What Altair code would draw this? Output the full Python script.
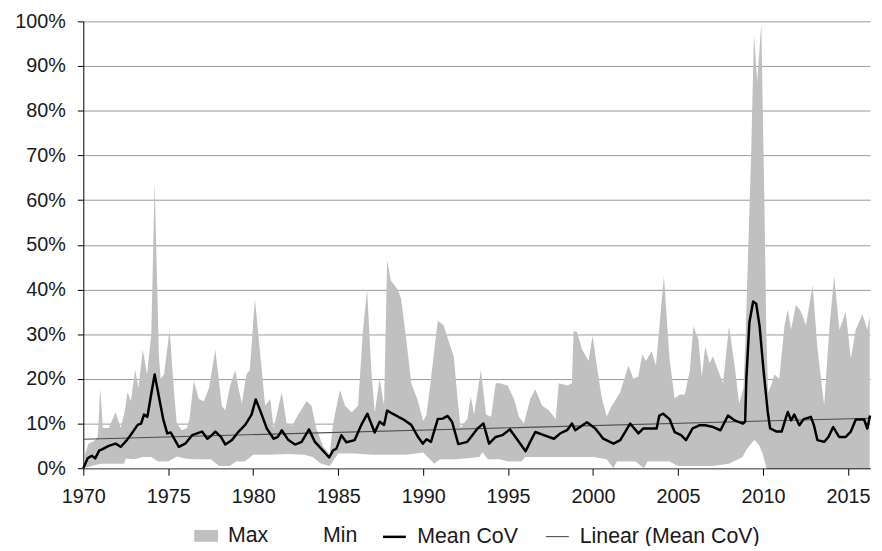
import altair as alt
import pandas as pd

# ---- data ----
max_years = [1970.0, 1970.1, 1970.3, 1970.6, 1970.85, 1971.0, 1971.15, 1971.5, 1971.9, 1972.2,
             1972.45, 1972.6, 1972.8, 1973.05, 1973.25, 1973.5, 1973.75, 1974.0, 1974.2, 1974.45,
             1974.55, 1974.75, 1975.08, 1975.33, 1975.5, 1975.8, 1976.1, 1976.25, 1976.5, 1976.8,
             1977.1, 1977.4, 1977.77, 1978.15, 1978.35, 1978.65, 1978.94, 1979.13, 1979.33, 1979.6,
             1979.8, 1980.1, 1980.4, 1980.7, 1981.0, 1981.2, 1981.68, 1981.97, 1982.3, 1982.65,
             1983.14, 1983.43, 1983.7, 1984.1, 1984.5, 1984.7, 1985.1, 1985.4, 1985.8, 1986.17,
             1986.46, 1986.7, 1986.95, 1987.15, 1987.44, 1987.7, 1987.88, 1988.1, 1988.5, 1988.7,
             1989.0, 1989.3, 1989.7, 1990.0, 1990.2, 1990.46, 1990.86, 1991.2, 1991.54, 1991.8,
             1992.03, 1992.2, 1992.6, 1992.8, 1993.0, 1993.4, 1993.7, 1994.0, 1994.27, 1994.5,
             1994.96, 1995.35, 1995.64, 1995.93, 1996.3, 1996.6, 1997.0, 1997.4, 1997.8, 1997.98,
             1998.5, 1998.75, 1998.86, 1999.05, 1999.35, 1999.74, 1999.97, 2000.2, 2000.5, 2000.8,
             2001.1, 2001.6, 2002.08, 2002.37, 2002.66, 2002.9, 2003.1, 2003.45, 2003.7, 2004.17,
             2004.5, 2004.8, 2005.1, 2005.4, 2005.7, 2005.9, 2006.19, 2006.4, 2006.6, 2006.85,
             2007.05, 2007.35, 2007.65, 2008.0, 2008.33, 2008.6, 2008.85, 2008.98, 2009.1, 2009.3,
             2009.47, 2009.66, 2009.9, 2010.08, 2010.2, 2010.3, 2010.48, 2010.67, 2010.96, 2011.26,
             2011.46, 2011.65, 2011.94, 2012.24, 2012.53, 2012.92, 2013.2, 2013.6, 2013.9, 2014.19,
             2014.5, 2014.87, 2015.17, 2015.46, 2015.85, 2016.14, 2016.28]
max_vals = [0, 3, 5.5, 6, 7, 18, 9, 9, 12.5, 9,
            13, 17, 15, 22, 18, 26.5, 21, 30, 64, 25,
            20, 21, 31, 17.5, 10, 8.5, 9, 11, 19.5, 15.5,
            15, 18, 26.5, 14, 13, 18.5, 22, 18, 14.5, 21,
            22, 38, 26, 14, 15.5, 9, 17, 10, 9.5, 12,
            15, 14, 9, 5, 3, 10, 17.5, 14, 12.5, 14,
            31, 40, 22, 12.5, 20, 14, 46.5, 42, 40, 38,
            29, 19, 15, 10.5, 12, 20, 33, 32, 28, 25,
            15.5, 9, 11, 16, 12, 22, 12, 11.5, 19, 19,
            18.5, 15.5, 11.5, 10, 15.5, 17.7, 14, 13, 11, 19,
            18.5, 19, 30.7, 30.5, 26.6, 24, 29.7, 23.5, 16, 11.5,
            14, 17, 23, 20, 20.5, 25.5, 24, 26.2, 23, 43,
            24.5, 15.6, 16.5, 16.5, 22, 31.8, 29, 20.5, 27.3, 23.5,
            25, 22, 19, 31.8, 23, 14.5, 18, 30, 45, 70,
            97, 86.5, 99.4, 60, 30, 17, 18.5, 21, 20, 31.8,
            35.5, 31, 36.6, 35, 32, 41, 27, 14, 31, 43,
            31, 35, 24.5, 31, 34.4, 31, 34]

min_years = [1970.0, 1970.5, 1971.0, 1972.0, 1972.4, 1972.5, 1973.0, 1973.5, 1974.0, 1974.4,
             1975.0, 1975.5, 1976.0, 1976.5, 1977.5, 1978.0, 1978.6, 1979.0, 1979.5, 1980.0,
             1981.0, 1982.0, 1983.0, 1983.5, 1984.0, 1984.5, 1985.0, 1986.0, 1987.0, 1988.0,
             1989.0, 1990.0, 1990.66, 1991.0, 1992.0, 1993.3, 1993.5, 1993.8, 1994.5, 1995.0,
             1995.8, 1996.0, 1998.0, 2000.0, 2000.8, 2001.2, 2001.4, 2002.5, 2003.0, 2003.2,
             2004.5, 2005.0, 2006.0, 2007.0, 2008.0, 2008.8, 2009.0, 2009.3, 2009.5, 2009.8,
             2010.0, 2010.2, 2016.3]
min_vals = [0, 0.5, 1, 1, 1, 2.2, 2, 2.5, 2.5, 1.5,
            1.5, 2.6, 2.2, 2, 2, 0.5, 0.5, 1.5, 1.5, 3,
            3, 3.2, 3, 2.5, 1, 0.5, 3.3, 3.3, 3, 3,
            3, 3.5, 1, 2, 2, 2.5, 3.6, 2, 2, 1.5,
            1.5, 2.5, 2.5, 2.5, 2, 0, 1.5, 1.5, 0, 1.5,
            1.5, 0.5, 0.5, 0.5, 1, 2.5, 4, 5.5, 6.4, 5,
            3, 0, 0]

mean_years = [1970.0, 1970.25, 1970.5, 1970.7, 1970.94, 1971.1, 1971.5, 1971.9, 1972.2, 1972.5,
              1972.8, 1973.2, 1973.4, 1973.57, 1973.77, 1973.97, 1974.2, 1974.45, 1974.7, 1974.94,
              1975.14, 1975.62, 1976.0, 1976.4, 1976.7, 1976.99, 1977.3, 1977.5, 1977.77, 1978.1,
              1978.36, 1978.75, 1979.14, 1979.53, 1979.9, 1980.15, 1980.4, 1980.8, 1981.2, 1981.45,
              1981.68, 1982.07, 1982.46, 1982.85, 1983.28, 1983.63, 1984.0, 1984.47, 1984.7, 1984.9,
              1985.19, 1985.48, 1985.97, 1986.36, 1986.72, 1986.9, 1987.15, 1987.44, 1987.7, 1987.88,
              1988.2, 1988.6, 1988.8, 1989.3, 1989.68, 1989.98, 1990.2, 1990.46, 1990.86, 1991.15,
              1991.44, 1991.7, 1992.07, 1992.6, 1993.2, 1993.55, 1993.88, 1994.27, 1994.66, 1995.1,
              1995.43, 1996.03, 1996.3, 1996.6, 1997.1, 1997.7, 1998.07, 1998.47, 1998.76, 1998.95,
              1999.64, 2000.13, 2000.6, 2001.2, 2001.6, 2002.18, 2002.67, 2002.96, 2003.74, 2003.9,
              2004.13, 2004.5, 2004.8, 2005.18, 2005.47, 2005.86, 2006.25, 2006.6, 2007.0, 2007.5,
              2007.94, 2008.33, 2008.82, 2008.95, 2009.02, 2009.2, 2009.42, 2009.6, 2009.8, 2010.03,
              2010.28, 2010.42, 2010.8, 2011.1, 2011.3, 2011.46, 2011.65, 2011.84, 2012.14, 2012.4,
              2012.82, 2013.0, 2013.2, 2013.6, 2013.85, 2014.13, 2014.48, 2014.87, 2015.17, 2015.46,
              2015.95, 2016.14, 2016.3]
mean_vals = [0, 2.2, 2.8, 2.2, 4, 4.2, 5, 5.5, 4.8, 6,
             7.5, 9.7, 10, 12, 11.5, 16, 21, 16, 11, 7.8,
             8, 4.8, 5.5, 7.4, 7.8, 8.2, 6.6, 7.2, 8.2, 7,
             5.3, 6.3, 8.2, 9.7, 12, 15.4, 13, 8.9, 6.6, 7,
             8.5, 6.3, 5.3, 5.9, 8.7, 5.9, 4.4, 2.4, 4, 4.4,
             7.4, 5.8, 6.3, 9.7, 12.2, 10.4, 8, 10.4, 9.7, 12.9,
             12.2, 11.4, 11, 9.7, 7.1, 5.5, 6.5, 5.9, 11, 11.1,
             11.7, 10.4, 5.4, 5.9, 8.9, 10, 5.5, 7, 7.4, 8.7,
             7, 3.8, 5.9, 8.1, 7.4, 6.6, 7.8, 8.5, 10, 8.5,
             10.3, 8.9, 6.6, 5.5, 6.3, 10, 7.8, 8.9, 8.9, 11.8,
             12.2, 11, 8.1, 7.4, 6.3, 8.9, 9.6, 9.6, 9.3, 8.5,
             11.8, 10.7, 10, 10.4, 20, 32.6, 37.3, 36.8, 31.8, 22,
             12.6, 8.9, 8.2, 8.2, 10.7, 12.6, 10.7, 12, 9.6, 11,
             11.5, 9.6, 6.3, 5.9, 7, 9.2, 7, 7, 8.2, 10.9,
             10.9, 8.9, 11.8]

trend_years = [1970.0, 2016.3]
trend_vals = [6.5, 11.2]

x_ticks = [1970, 1975, 1980, 1985, 1990, 1995, 2000, 2005, 2010, 2015]
y_ticks = [0, 10, 20, 30, 40, 50, 60, 70, 80, 90, 100]

area_series = ["Max", "Min"]
area_colors = ["#c0c0c0", "#ffffff"]
line_series = ["Mean CoV", "Linear (Mean CoV)"]
line_colors = ["#000000", "#4d4d4d"]
line_widths = [2.5, 1.1]

# ---- tables ----
df_max = pd.DataFrame({"year": max_years, "value": max_vals, "series": area_series[0]})
df_min = pd.DataFrame({"year": min_years, "value": min_vals, "series": area_series[1]})
df_mean = pd.DataFrame({"year": mean_years, "value": mean_vals, "series": line_series[0]})
df_trend = pd.DataFrame({"year": trend_years, "value": trend_vals, "series": line_series[1]})

FONT = "Liberation Sans"
LEG_FS = 21.5

x_enc = alt.X(
    "year:Q",
    title=None,
    scale=alt.Scale(domain=[1970, 2016.3], nice=False, zero=False),
    axis=alt.Axis(values=x_ticks, format="d", grid=False, domainColor="#000000",
                  tickColor="#000000", tickSize=7, labelFontSize=20, labelPadding=12,
                  labelColor="#1a1a1a", labelFont=FONT, labelFlush=False),
)
y_enc = alt.Y(
    "value:Q",
    title=None,
    scale=alt.Scale(domain=[0, 100], nice=False),
    axis=alt.Axis(values=y_ticks, labelExpr="datum.value + '%'", grid=True,
                  gridColor="#9a9a9a", gridWidth=1, domainColor="#000000",
                  tickColor="#000000", tickSize=6, labelFontSize=20, labelPadding=12,
                  labelColor="#1a1a1a", labelFont=FONT),
)

fill_scale = alt.Scale(domain=area_series, range=area_colors)
fill_legend = alt.Legend(title=None, orient="none", legendX=112, legendY=507,
                         direction="horizontal",
                         symbolType="M-1,-0.5H1V0.5H-1Z", symbolSize=576,
                         symbolStrokeWidth=0, labelFontSize=LEG_FS, labelFont=FONT,
                         labelColor="#1a1a1a", columnPadding=21, labelOffset=10,
                         labelLimit=400)

stroke_scale = alt.Scale(domain=line_series, range=line_colors)
width_scale = alt.Scale(domain=line_series, range=line_widths)
stroke_legend = alt.Legend(title=None, orient="none", legendX=301, legendY=507,
                           direction="horizontal",
                           symbolType="stroke", symbolSize=529,
                           labelFontSize=LEG_FS, labelFont=FONT, labelColor="#1a1a1a",
                           columnPadding=25, labelOffset=10, labelLimit=400)

area_max = alt.Chart(df_max).mark_area().encode(
    x=x_enc, y=y_enc,
    fill=alt.Fill("series:N", scale=fill_scale, legend=fill_legend),
)
area_min = alt.Chart(df_min).mark_area().encode(
    x=x_enc, y=y_enc,
    fill=alt.Fill("series:N", scale=fill_scale, legend=fill_legend),
)
trend = alt.Chart(df_trend).mark_line().encode(
    x=x_enc, y=y_enc,
    stroke=alt.Stroke("series:N", scale=stroke_scale, legend=stroke_legend),
    strokeWidth=alt.StrokeWidth("series:O", scale=width_scale, legend=stroke_legend),
)
mean = alt.Chart(df_mean).mark_line(strokeJoin="round").encode(
    x=x_enc, y=y_enc,
    stroke=alt.Stroke("series:N", scale=stroke_scale, legend=stroke_legend),
    strokeWidth=alt.StrokeWidth("series:O", scale=width_scale, legend=stroke_legend),
)

chart = alt.layer(area_max, area_min, trend, mean).properties(
    width=794,
    height=451,
    autosize=alt.AutoSizeParams(type="none"),
    padding={"left": 76, "top": 11, "right": 4, "bottom": 76},
    background="#ffffff",
).configure_view(stroke="transparent")

chart.save("out.html", embed_options={"renderer": "svg", "actions": False})
